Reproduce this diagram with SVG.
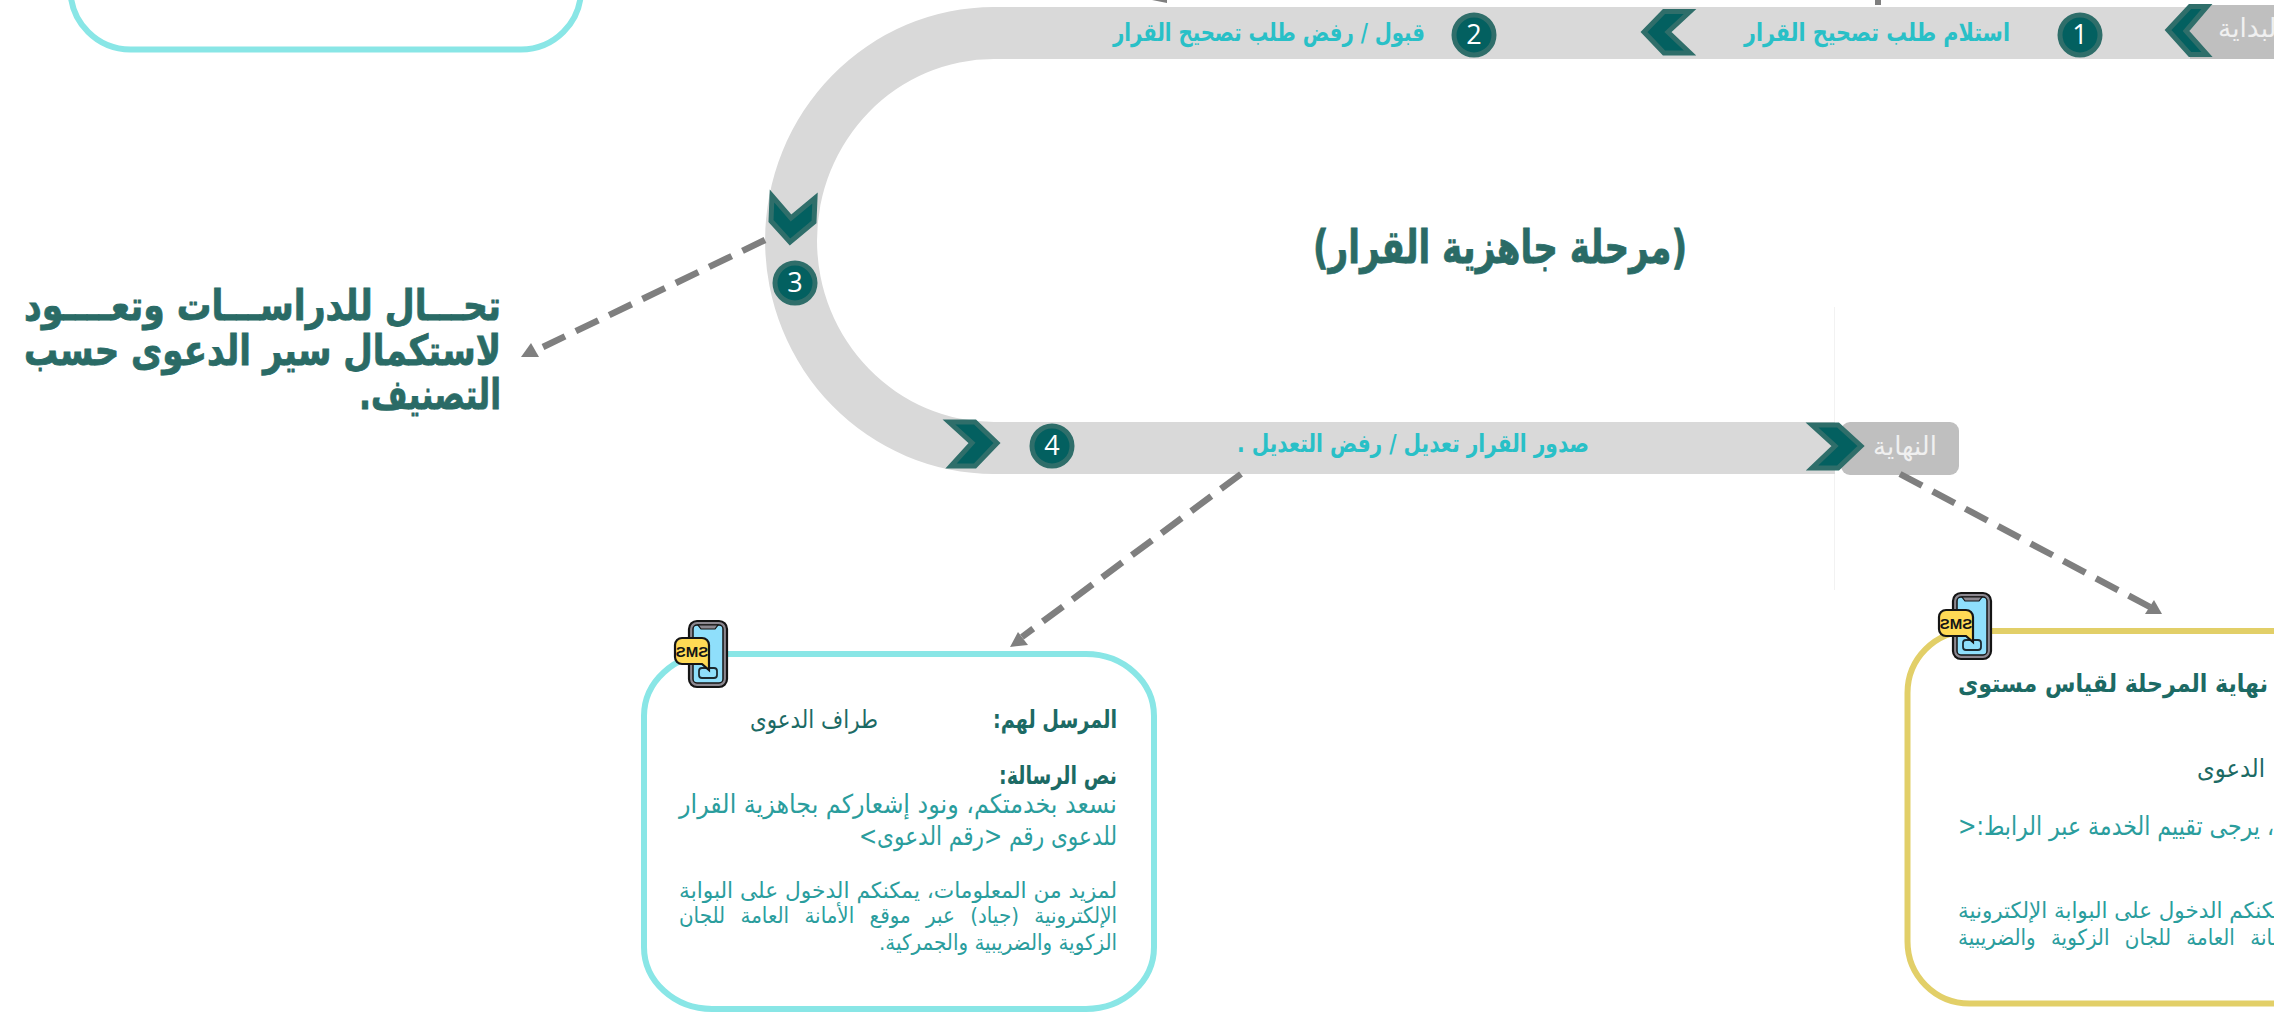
<svg xmlns="http://www.w3.org/2000/svg" width="2274" height="1012" viewBox="0 0 2274 1012">
<style>
text{font-family:"DejaVu Sans","Noto Sans",sans-serif;direction:rtl;text-anchor:start}
.step{fill:#29c0c7;font-weight:700;font-size:25px}
.num{fill:#fff;font-family:"Open Sans",sans-serif;font-size:27px;direction:ltr;text-anchor:middle}
.tab{fill:#f0f0f0;font-size:26px;font-weight:400}
.head{fill:#1c6a64;font-weight:700;font-size:25px}
.to{fill:#1c6a64;font-size:25px}
.msg{fill:#2a9d9d;font-size:26px}
.foot{fill:#2a9d9d;font-size:22px}
.big{fill:#2a6b66;stroke:#2a6b66;stroke-width:.8;font-weight:700;font-size:42px}
.chev{fill:#036060;stroke:#2f6e6a;stroke-width:5;stroke-linejoin:miter}
.dot{fill:#036060;stroke:#2f6e6a;stroke-width:5}
.dash{fill:none;stroke:#7f7f7f;stroke-width:6.5;stroke-dasharray:25 12}
.ah{fill:#7f7f7f}
.card{fill:#fff;stroke-width:6}
</style>
<defs>
<g id="sms">
<rect x="1" y="1" width="38" height="66" rx="8" fill="#8c8890" stroke="#151515" stroke-width="2.2"/>
<rect x="5" y="5" width="30" height="58" rx="4" fill="#8fdffb" stroke="#151515" stroke-width="1.5"/>
<path d="M10 5h20l-3 4h-14z" fill="#8c8890" stroke="#151515" stroke-width="1.2"/>
<rect x="11" y="48" width="18" height="10" rx="3" fill="none" stroke="#1c2a30" stroke-width="1.8"/>
<path d="M-6 18H14a7 7 0 0 1 7 7V50L14 44H-6a7 7 0 0 1-7-7V25a7 7 0 0 1 7-7z" fill="#ffda55" stroke="#151515" stroke-width="2.2"/>
<text transform="translate(4 37) scale(-1 1)" font-size="15" font-weight="700" fill="#151515" style="font-family:'Liberation Sans',sans-serif;direction:ltr;text-anchor:middle">SMS</text>
</g>
</defs>

<g id="top-card"><rect class="card" x="70.500" y="-150" width="510.500" height="199.500" rx="60" ry="60" stroke="#89e6e6"/></g>

<g id="guide"><rect x="1834" y="307" width="1" height="283" fill="#f2f2f2"/></g>

<g id="track">
<path d="M2274 7H994A229 233.500 0 0 0 994 474H1835V422H994A177 181.500 0 0 1 994 59H2274Z" fill="#d9d9d9"/>
</g>

<g id="tab-start">
<polygon points="2190,5 2274,5 2274,59 2190,59" fill="#bfbfbf"/>
<polygon class="chev" points="2190,6.500 2207,6.500 2186,31 2207,54.500 2190,54.500 2168,30"/>
<text class="tab" x="2284" y="37" textLength="66" lengthAdjust="spacingAndGlyphs">البداية</text>
</g>
<g id="tab-end">
<rect x="1841" y="422" width="118" height="53" rx="9" fill="#bfbfbf"/>
<polygon class="chev" points="1812,425 1838,425 1861,446 1838,468 1812,468 1835,446"/>
<text class="tab" x="1937" y="455" textLength="64" lengthAdjust="spacingAndGlyphs">النهاية</text>
</g>

<g id="step-1">
<polygon class="chev" points="1664,11.500 1690,11.500 1668,32 1690,53 1664,53 1644,32"/>
<circle class="dot" cx="2080" cy="35" r="20"/>
<text class="num" x="2080" y="44">1</text>
<text class="step" x="2010" y="41" textLength="266" lengthAdjust="spacingAndGlyphs">استلام طلب تصحيح القرار</text>
</g>
<g id="step-2">
<circle class="dot" cx="1474" cy="35" r="20"/>
<text class="num" x="1474" y="44">2</text>
<text class="step" x="1425" y="41" textLength="312" lengthAdjust="spacingAndGlyphs">قبول / رفض طلب تصحيح القرار</text>
</g>
<g id="step-3">
<polygon class="chev" points="772,196 791,218 815,198 814,222 790,242 771,221"/>
<circle class="dot" cx="795" cy="283" r="20"/>
<text class="num" x="795" y="292">3</text>
</g>
<g id="step-4">
<polygon class="chev" points="949,422 975,422 997,443 975,466 951,466 972,443"/>
<circle class="dot" cx="1052" cy="446" r="20"/>
<text class="num" x="1052" y="455">4</text>
<text class="step" x="1589" y="452" textLength="352" lengthAdjust="spacingAndGlyphs">صدور القرار تعديل / رفض التعديل .</text>
</g>

<g id="title"><text x="1687" y="263" fill="#2a6b66" stroke="#2a6b66" stroke-width=".8" font-weight="700" font-size="46" textLength="374" lengthAdjust="spacingAndGlyphs">(مرحلة جاهزية القرار)</text></g>

<g id="note-left">
<text class="big" x="501" y="320" textLength="477" lengthAdjust="spacingAndGlyphs">تحـــال للدراســـات  وتعــــود</text>
<text class="big" x="501" y="365" textLength="477" lengthAdjust="spacingAndGlyphs">لاستكمال سير الدعوى حسب</text>
<text class="big" x="501" y="409" textLength="142" lengthAdjust="spacingAndGlyphs">التصنيف.</text>
</g>

<g id="connectors">
<path class="dash" d="M765 240L543 347"/>
<polygon class="ah" points="521,357 539,357 531,343"/>
<path class="dash" d="M1241 474L1022 637"/>
<polygon class="ah" points="1010,647 1028,645 1018,632"/>
<path class="dash" d="M1900 474L2150 607"/>
<polygon class="ah" points="2162,614 2145,614 2154,600"/>
<polygon class="ah" points="1152,0 1167,0 1167,3"/>
<rect class="ah" x="1875" y="0" width="6" height="5"/>
</g>

<g id="card-cyan">
<rect class="card" x="644" y="654" width="510" height="355" rx="68" ry="62" stroke="#89e6e6"/>
<use href="#sms" x="688" y="620"/>
<text class="head" x="1117" y="728" textLength="124" lengthAdjust="spacingAndGlyphs">المرسل لهم:</text>
<text class="to" x="878" y="728" textLength="128" lengthAdjust="spacingAndGlyphs">طراف الدعوى</text>
<text class="head" x="1117" y="784" textLength="118" lengthAdjust="spacingAndGlyphs">نص الرسالة:</text>
<text class="msg" x="1117" y="813" textLength="438" lengthAdjust="spacingAndGlyphs">نسعد بخدمتكم، ونود إشعاركم بجاهزية القرار</text>
<text class="msg" x="1117" y="845" textLength="258" lengthAdjust="spacingAndGlyphs">للدعوى رقم &lt;رقم الدعوى&gt;</text>
<text class="foot" x="1117" y="898" textLength="438" lengthAdjust="spacingAndGlyphs">لمزيد من المعلومات، يمكنكم الدخول على البوابة</text>
<text class="foot" x="1117" y="923" textLength="438" lengthAdjust="spacingAndGlyphs" word-spacing="10">الإلكترونية (جياد) عبر موقع الأمانة العامة للجان</text>
<text class="foot" x="1117" y="950" textLength="238" lengthAdjust="spacingAndGlyphs">الزكوية والضريبية والجمركية.</text>
</g>

<g id="card-yellow">
<rect class="card" x="1907.500" y="631" width="500" height="372.500" rx="62" ry="62" stroke="#e2cf68"/>
<use href="#sms" x="1952" y="592"/>
<text class="head" x="2268" y="692" textLength="310" lengthAdjust="spacingAndGlyphs">نهاية المرحلة لقياس مستوى</text>
<text class="to" x="2265" y="777" textLength="68" lengthAdjust="spacingAndGlyphs">الدعوى</text>
<text class="msg" x="2274" y="835" textLength="316" lengthAdjust="spacingAndGlyphs">، يرجى تقييم الخدمة عبر الرابط:&lt;</text>
<text class="foot" x="2292" y="918" textLength="334" lengthAdjust="spacingAndGlyphs">يمكنكم الدخول على البوابة الإلكترونية</text>
<text class="foot" x="2300" y="945" textLength="342" lengthAdjust="spacingAndGlyphs" word-spacing="10">الأمانة العامة للجان الزكوية والضريبية</text>
</g>
</svg>
